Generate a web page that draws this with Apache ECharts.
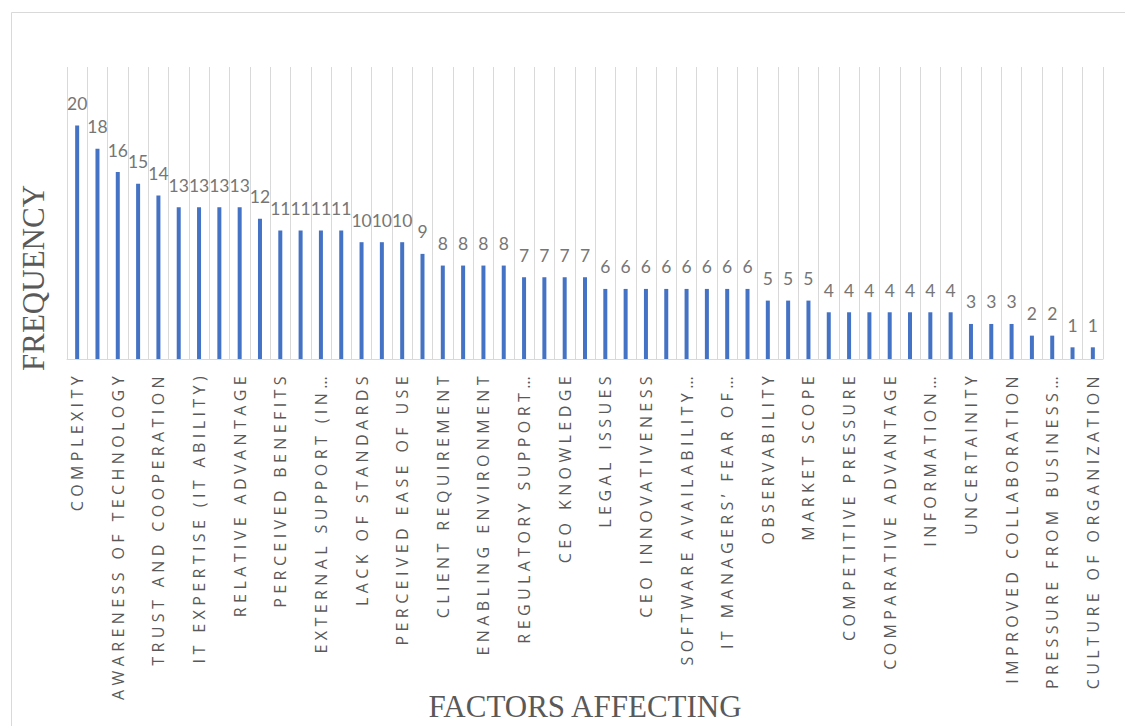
<!DOCTYPE html>
<html>
<head>
<meta charset="utf-8">
<script src="https://cdn.jsdelivr.net/npm/echarts@6/dist/echarts.min.js"></script>
<style>
  html, body { margin: 0; padding: 0; background: #ffffff; }
  #chart { width: 1125px; height: 726px; }
  #chart text[style*="Open Sans"], #chart text[font-family*="Open Sans"] { letter-spacing: 4.4px; }
</style>
</head>
<body>
<div id="chart"></div>
<script>
const categories = [
  "COMPLEXITY", "COMPATIBILITY",
  "AWARENESS OF TECHNOLOGY", "COST",
  "TRUST AND COOPERATION", "TOP MANAGEMENT SUPPORT",
  "IT EXPERTISE (IT ABILITY)", "SECURITY CONCERNS",
  "RELATIVE ADVANTAGE", "FIRM SIZE",
  "PERCEIVED BENEFITS", "TRIALABILITY",
  "EXTERNAL SUPPORT (IN…", "GOVERNMENT SUPPORT",
  "LACK OF STANDARDS", "ORGANIZATIONAL READINESS",
  "PERCEIVED EASE OF USE", "TECHNOLOGY INFRASTRUCTURE",
  "CLIENT REQUIREMENT", "VENDOR SUPPORT",
  "ENABLING ENVIRONMENT", "DATA PRIVACY",
  "REGULATORY SUPPORT…", "SCALABILITY",
  "CEO KNOWLEDGE", "TRAINING",
  "LEGAL ISSUES", "INTEROPERABILITY",
  "CEO INNOVATIVENESS", "FINANCIAL RESOURCES",
  "SOFTWARE AVAILABILITY…", "PERCEIVED RISK",
  "IT MANAGERS’ FEAR OF…", "EMPLOYEE RESISTANCE",
  "OBSERVABILITY", "CUSTOMER PRESSURE",
  "MARKET SCOPE", "PARTNER READINESS",
  "COMPETITIVE PRESSURE", "INDUSTRY TYPE",
  "COMPARATIVE ADVANTAGE", "SKILL SHORTAGE",
  "INFORMATION…", "COST SAVINGS",
  "UNCERTAINITY", "NETWORK EFFECTS",
  "IMPROVED COLLABORATION", "TRANSPARENCY",
  "PRESSURE FROM BUSINESS…", "TRADING PARTNER PRESSURE",
  "CULTURE OF ORGANIZATION"
];
const frequency = [
  20, 18, 16, 15, 14, 13, 13, 13, 13, 12,
  11, 11, 11, 11, 10, 10, 10, 9, 8, 8,
  8, 8, 7, 7, 7, 7, 6, 6, 6, 6,
  6, 6, 6, 6, 5, 5, 5, 4, 4, 4,
  4, 4, 4, 4, 3, 3, 3, 2, 2, 1,
  1
];
const yAxisTitle = "FREQUENCY";
const xAxisTitle = "FACTORS AFFECTING";

const chart = echarts.init(document.getElementById('chart'), null, { renderer: 'svg' });
chart.setOption({
  animation: false,
  backgroundColor: '#ffffff',
  grid: { left: 67, right: 22, top: 67, bottom: 367, containLabel: false },
  xAxis: {
    type: 'category',
    data: categories,
    boundaryGap: true,
    axisLine: { show: true, lineStyle: { color: '#d9d9d9', width: 1 } },
    axisTick: { show: false },
    splitLine: { show: true, interval: 0, lineStyle: { color: '#d9d9d9', width: 1 } },
    axisLabel: {
      interval: 1,
      rotate: 90,
      margin: 13,
      color: '#595959',
      fontFamily: 'Open Sans',
      fontSize: 16
    }
  },
  yAxis: {
    type: 'value',
    min: 0,
    max: 25,
    show: false,
    splitLine: { show: false }
  },
  series: [{
    type: 'bar',
    data: frequency,
    barWidth: 4,
    itemStyle: { color: '#4472C4' },
    label: {
      show: true,
      position: 'top',
      distance: 13,
      color: '#767676',
      fontFamily: 'Lato',
      fontSize: 17.5
    }
  }],
  graphic: [
    {
      type: 'rect',
      left: 9, top: 10,
      shape: { x: 0, y: 0, width: 1125, height: 800 },
      style: { fill: 'none', stroke: '#d9d9d9', lineWidth: 1 },
      silent: true
    },
    {
      type: 'text',
      x: 33, y: 278,
      rotation: Math.PI / 2,
      style: {
        text: yAxisTitle,
        fill: '#595959',
        font: '31px "Liberation Serif"',
        align: 'center',
        verticalAlign: 'middle'
      }
    },
    {
      type: 'text',
      x: 585, y: 706,
      style: {
        text: xAxisTitle,
        fill: '#595959',
        font: '31px "Liberation Serif"',
        align: 'center',
        verticalAlign: 'middle'
      }
    }
  ]
});
</script>
</body>
</html>
